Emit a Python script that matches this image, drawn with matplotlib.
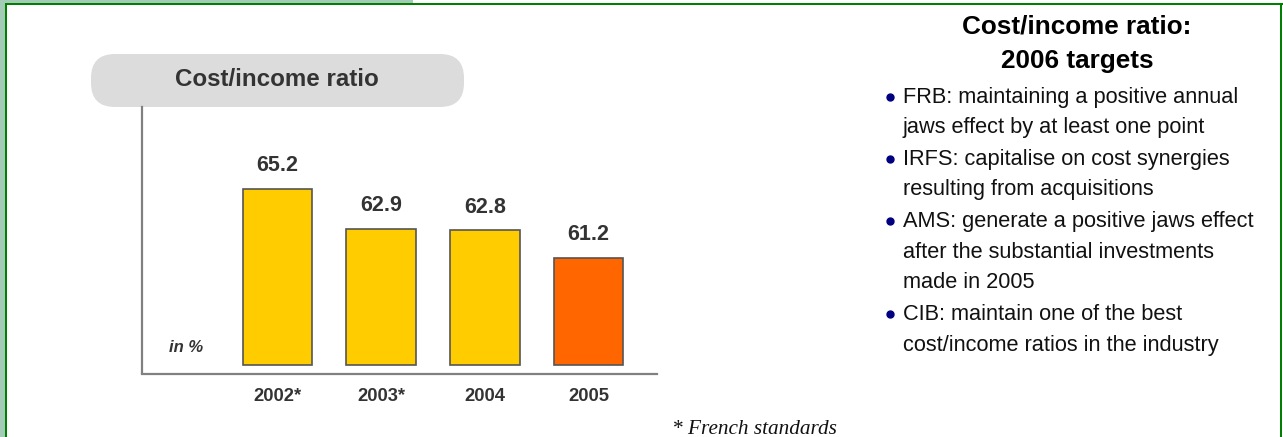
import matplotlib
matplotlib.use("Agg")
import matplotlib.pyplot as plt
from matplotlib.patches import FancyBboxPatch, Rectangle

# données du graphique
years = ["2002*", "2003*", "2004", "2005"]
ratios = [65.2, 62.9, 62.8, 61.2]
bar_colors = ["#FFCC00", "#FFCC00", "#FFCC00", "#FF6600"]

box_title = "Cost/income ratio"
unit_label = "in %"
side_title = ["Cost/income ratio:", "2006 targets"]
bullets = [
    ["FRB: maintaining a positive annual", "jaws effect by at least one point"],
    ["IRFS: capitalise on cost synergies", "resulting from acquisitions"],
    ["AMS: generate a positive jaws effect", "after the substantial investments", "made in 2005"],
    ["CIB: maintain one of the best", "cost/income ratios in the industry"],
]
footnote = "* French standards"

SANS = ["Liberation Sans", "DejaVu Sans"]
SERIF = ["Liberation Serif", "DejaVu Serif"]

W, H = 1283, 437
fig = plt.figure(figsize=(W / 100, H / 100), dpi=100)

# fond en coordonnées pixels
bg = fig.add_axes([0, 0, 1, 1])
bg.set_xlim(0, W)
bg.set_ylim(H, 0)
bg.axis("off")

# cadre vert
bg.add_patch(Rectangle((0, 0), 5, H, color="#a3cbb6", lw=0))
bg.add_patch(Rectangle((0, 0), 413, 3.5, color="#a3cbb6", lw=0))
bg.add_patch(Rectangle((5, 3), 2.2, H, color="#008000", lw=0))
bg.add_patch(Rectangle((5, 3), W - 5, 2.2, color="#008000", lw=0))
bg.add_patch(Rectangle((1280, 3), 2.2, H, color="#008000", lw=0))

# pastille du titre
pill = FancyBboxPatch((91, 54), 373, 53, boxstyle="round,pad=0,rounding_size=24",
                      fc="#dcdcdc", ec="none")
bg.add_patch(pill)
bg.text(277, 79, box_title, ha="center", va="center", fontsize=17.4,
        fontweight="bold", color="#333333", family=SANS)

# texte de droite
for i, line in enumerate(side_title):
    bg.text(1077, 26 + 35 * i, line, ha="center", va="center", fontsize=18.8,
            fontweight="bold", color="black", family=SANS)

k = 0
for group in bullets:
    bg.plot(890, 97 + 31 * k, "o", ms=5, color="#000080", mec="#000080")
    for line in group:
        bg.text(903, 97 + 31 * k, line, ha="left", va="center", fontsize=15.7,
                color="#111111", family=SANS)
        k += 1

bg.text(672, 429, footnote, ha="left", va="center", fontsize=15.3,
        style="italic", color="#111111", family=SERIF)

# barres
ax = fig.add_axes([142 / W, (H - 373.5) / H, (657 - 142) / W, (373.5 - 107) / H])
ax.patch.set_alpha(0)
x = list(range(len(years)))
base = 55
ax.bar(x, [r - base for r in ratios], bottom=base, width=0.67,
       color=bar_colors, edgecolor="#555555", linewidth=1.2)
for xi, r in zip(x, ratios):
    ax.annotate(f"{r:.1f}", (xi, r), xytext=(0, 23), textcoords="offset pixels",
                ha="center", va="center", fontsize=15.5, fontweight="bold",
                color="#333333", family=SANS)

ax.set_xlim(-1.307, 3.66)
ax.set_ylim(54.5, 69.95)
ax.set_xticks(x)
ax.set_xticklabels(years, fontsize=13.2, fontweight="bold", color="#333333",
                   family=SANS)
ax.tick_params(axis="x", length=0, pad=10.5)
ax.set_yticks([])
for s in ["top", "right"]:
    ax.spines[s].set_visible(False)
for s in ["left", "bottom"]:
    ax.spines[s].set_color("#808080")
    ax.spines[s].set_linewidth(1.6)

ax.text(-0.88, 56.0, unit_label, ha="center", va="center",
        fontsize=12, fontweight="bold", style="italic", color="#333333", family=SANS)

fig.savefig("out.png", dpi=100)
